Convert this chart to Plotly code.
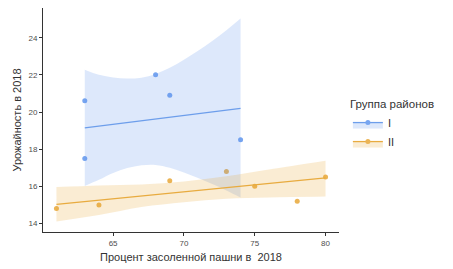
import plotly.graph_objects as go

# Data points
x_I = [63, 63, 68, 69, 74]
y_I = [20.6, 17.5, 22.0, 20.9, 18.5]
x_II = [61, 64, 69, 73, 75, 78, 80]
y_II = [14.8, 15.0, 16.3, 16.8, 16.0, 15.2, 16.5]

# Fitted lines
fit_x_I = [63, 74]
fit_y_I = [19.15, 20.2]
fit_x_II = [61, 80]
fit_y_II = [15.03, 16.45]

# Confidence bands
band_x_I = [63, 64, 65, 66, 67, 68, 69, 70, 71, 72, 73, 74]
band_lo_I = [16.02, 16.35, 16.72, 16.98, 17.13, 17.15, 17.0, 16.75, 16.45, 16.12, 15.78, 15.4]
band_hi_I = [22.27, 22.0, 21.86, 21.8, 21.85, 22.05, 22.38, 22.82, 23.3, 23.82, 24.4, 25.03]

band_x_II = [61, 64, 67, 70, 73, 76, 80]
band_lo_II = [14.1, 14.45, 14.88, 15.14, 15.33, 15.4, 15.45]
band_hi_II = [15.96, 16.05, 16.1, 16.26, 16.54, 16.9, 17.37]

x_ticks = [65, 70, 75, 80]
y_ticks = [14, 16, 18, 20, 22, 24]

group_names = ["I", "II"]
line_colors = ["#6d9eeb", "#e8ab3f"]
point_colors = ["#77a5f0", "#ebb455"]
fill_colors = ["rgba(100,149,237,0.22)", "rgba(232,168,56,0.22)"]

FONT = "Liberation Sans, Arial, sans-serif"

fig = go.Figure()

groups = [
    (x_I, y_I, fit_x_I, fit_y_I, band_x_I, band_lo_I, band_hi_I),
    (x_II, y_II, fit_x_II, fit_y_II, band_x_II, band_lo_II, band_hi_II),
]

# points first
for i, g in enumerate(groups):
    fig.add_trace(go.Scatter(x=g[0], y=g[1], mode="markers",
                             marker=dict(color=point_colors[i], size=5),
                             showlegend=False, hoverinfo="skip"))

# ribbons and lines
for i, g in enumerate(groups):
    fig.add_trace(go.Scatter(x=g[4], y=g[5], mode="lines",
                             line=dict(width=0, shape="spline"),
                             showlegend=False, hoverinfo="skip"))
    fig.add_trace(go.Scatter(x=g[4], y=g[6], mode="lines",
                             line=dict(width=0, shape="spline"),
                             fill="tonexty", fillcolor=fill_colors[i],
                             showlegend=False, hoverinfo="skip"))
    fig.add_trace(go.Scatter(x=g[2], y=g[3], mode="lines",
                             line=dict(color=line_colors[i], width=1.3),
                             showlegend=False, hoverinfo="skip"))

# legend entries
for i, name in enumerate(group_names):
    fig.add_trace(go.Scatter(x=[None], y=[None], mode="lines+markers",
                             name=name,
                             line=dict(color=line_colors[i], width=1.3),
                             marker=dict(color=point_colors[i], size=5),
                             fill="toself", fillcolor=fill_colors[i]))

axis_common = dict(
    showgrid=False, zeroline=False, showline=True,
    linecolor="#333333", linewidth=1,
    ticks="outside", ticklen=3, tickwidth=1, tickcolor="#333333",
    tickfont=dict(family=FONT, size=8, color="#4d4d4d"),
    mirror=False,
)

fig.update_layout(
    width=453, height=269,
    margin=dict(l=43, r=114, t=8, b=35),
    paper_bgcolor="white", plot_bgcolor="white",
    font=dict(family=FONT),
    xaxis=dict(range=[60.05, 80.95], tickvals=x_ticks,
               title=dict(text="Процент засоленной пашни в  2018",
                          font=dict(family=FONT, size=11, color="#333333"),
                          standoff=6),
               **axis_common),
    yaxis=dict(range=[13.54, 25.6], tickvals=y_ticks,
               title=dict(text="Урожайность в 2018",
                          font=dict(family=FONT, size=11, color="#333333"),
                          standoff=4),
               **axis_common),
    legend=dict(
        title=dict(text="Группа районов",
                   font=dict(family=FONT, size=11.5, color="#333333"),
                   side="top"),
        font=dict(family=FONT, size=11, color="#333333"),
        x=1.03, xanchor="left", y=0.62, yanchor="top",
        itemwidth=30, tracegroupgap=0, traceorder="normal",
        bgcolor="rgba(0,0,0,0)",
    ),
)

fig.write_html("out.html")
